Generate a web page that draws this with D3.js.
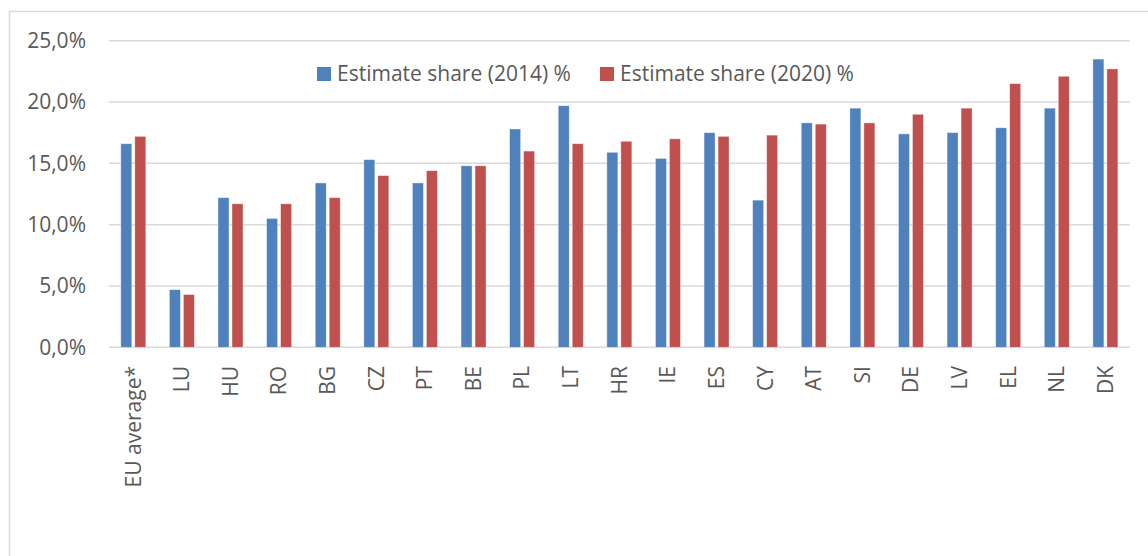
<!DOCTYPE html>
<html>
<head>
<meta charset="utf-8">
<script src="https://cdn.jsdelivr.net/npm/d3@7"></script>
<style>
  html, body { margin: 0; padding: 0; background: #fff; }
  svg { display: block; font-family: "Open Sans", sans-serif; }
</style>
</head>
<body>
<div id="chart"></div>
<script>
const countries = ['EU average*', 'LU', 'HU', 'RO', 'BG', 'CZ', 'PT', 'BE', 'PL', 'LT', 'HR',
  'IE', 'ES', 'CY', 'AT', 'SI', 'DE', 'LV', 'EL', 'NL', 'DK'];
const share2014 = [16.6, 4.7, 12.2, 10.5, 13.4, 15.3, 13.4, 14.8, 17.8, 19.7, 15.9,
  15.4, 17.5, 12.0, 18.3, 19.5, 17.4, 17.5, 17.9, 19.5, 23.5];
const share2020 = [17.2, 4.3, 11.7, 11.7, 12.2, 14.0, 14.4, 14.8, 16.0, 16.6, 16.8,
  17.0, 17.2, 17.3, 18.2, 18.3, 19.0, 19.5, 21.5, 22.1, 22.7];
const seriesNames = ['Estimate share (2014) %', 'Estimate share (2020) %'];
const colors = ['#4f81bd', '#c0504d'];
const yTicks = [0, 5, 10, 15, 20, 25];

const width = 1148, height = 556;
const margin = { left: 109, right: 18, top: 40.7, bottom: 208.7 };

const svg = d3.select('#chart').append('svg')
  .attr('width', width)
  .attr('height', height);

// chart area frame (right and bottom edges fall outside the crop)
svg.append('path')
  .attr('d', `M9.5,${height} V11.5 H${width}`)
  .attr('fill', 'none')
  .attr('stroke', '#d9d9d9')
  .attr('stroke-width', 1.5);

const x = d3.scaleBand()
  .domain(countries)
  .range([margin.left, width - margin.right - 0.3])
  .paddingInner(0)
  .paddingOuter(0);

const y = d3.scaleLinear()
  .domain([0, 25])
  .range([height - margin.bottom, margin.top]);

const fmt = v => d3.format('.1f')(v).replace('.', ',') + '%';

// gridlines
svg.append('g')
  .selectAll('line')
  .data(yTicks)
  .enter().append('line')
  .attr('x1', x.range()[0])
  .attr('x2', x.range()[1])
  .attr('y1', d => y(d))
  .attr('y2', d => y(d))
  .attr('stroke', '#d9d9d9')
  .attr('stroke-width', 1.5);

// y tick labels
svg.append('g')
  .selectAll('text')
  .data(yTicks)
  .enter().append('text')
  .attr('x', 86)
  .attr('y', d => y(d))
  .attr('dy', '0.35em')
  .attr('text-anchor', 'end')
  .attr('font-size', '21px')
  .attr('fill', '#595959')
  .text(fmt);

// bars
const barW = 11, gap = 3;
const series = [share2014, share2020];
series.forEach((vals, s) => {
  svg.append('g')
    .selectAll('rect')
    .data(vals)
    .enter().append('rect')
    .attr('x', (d, i) => x(countries[i]) + x.bandwidth() / 2 - barW - gap / 2 + s * (barW + gap))
    .attr('y', d => y(d))
    .attr('width', barW)
    .attr('height', d => y(0) - y(d))
    .attr('fill', colors[s])
    .attr('stroke', '#ffffff')
    .attr('stroke-opacity', 0.5)
    .attr('stroke-width', 0.75);
});

// x labels, rotated
svg.append('g')
  .selectAll('text')
  .data(countries)
  .enter().append('text')
  .attr('transform', d => `translate(${x(d) + x.bandwidth() / 2},366) rotate(-90)`)
  .attr('dy', '0.35em')
  .attr('text-anchor', 'end')
  .attr('font-size', '21px')
  .attr('fill', '#595959')
  .text(d => d);

// legend
const legendX = [317, 600];
const legend = svg.append('g')
  .selectAll('g')
  .data(seriesNames)
  .enter().append('g')
  .attr('transform', (d, i) => `translate(${legendX[i]},67)`);

legend.append('rect')
  .attr('width', 14)
  .attr('height', 14)
  .attr('fill', (d, i) => colors[i]);

legend.append('text')
  .attr('x', 20)
  .attr('y', 7)
  .attr('dy', '0.35em')
  .attr('font-size', '21px')
  .attr('fill', '#595959')
  .text(d => d);
</script>
</body>
</html>
